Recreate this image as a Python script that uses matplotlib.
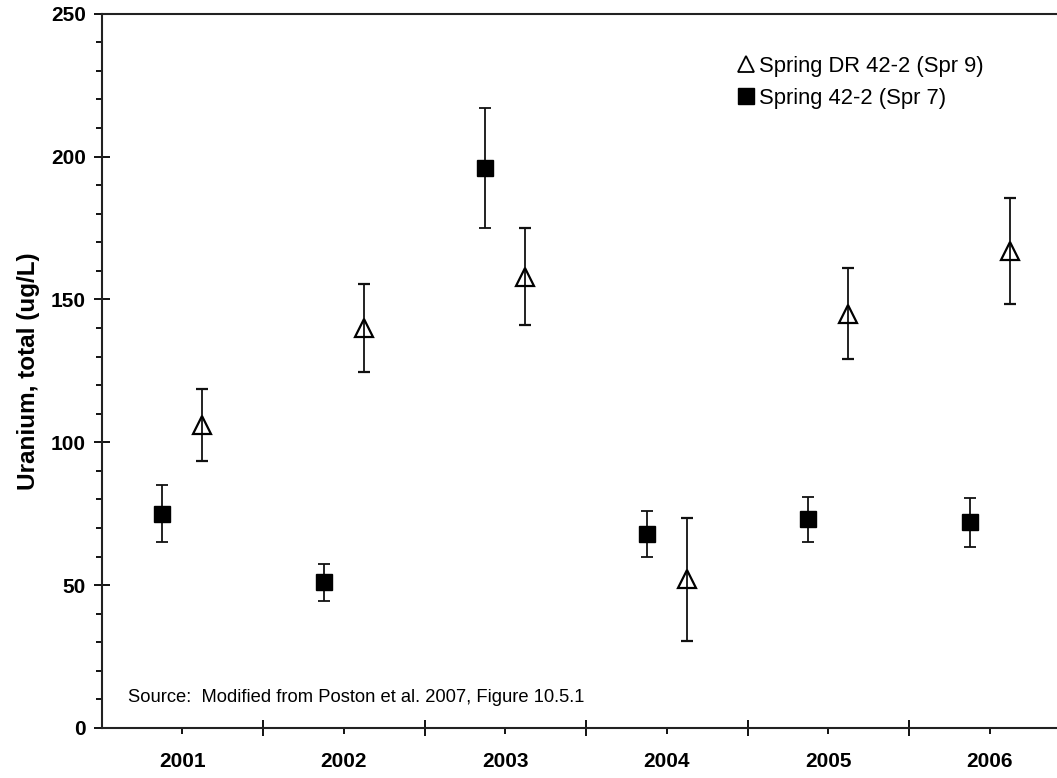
import matplotlib
matplotlib.use("Agg")
import matplotlib.pyplot as plt
from matplotlib.lines import Line2D
from matplotlib.ticker import MultipleLocator, FixedLocator, NullFormatter
import numpy as np

plt.rcParams['font.family'] = ['Liberation Sans', 'DejaVu Sans']

years = ['2001', '2002', '2003', '2004', '2005', '2006']

# Spring 42-2 (Spr 7) - filled squares
spr7 = [75, 51, 196, 68, 73, 72]
spr7_err = [10, 6.5, 21, 8, 8, 8.5]

# Spring DR 42-2 (Spr 9) - open triangles
spr9 = [106, 140, 158, 52, 145, 167]
spr9_err = [12.5, 15.5, 17, 21.5, 16, 18.5]

fig = plt.figure(figsize=(10.57, 7.78), dpi=100)
ax = fig.add_axes([0.0962, 0.0643, 0.9167, 0.918])

x = np.arange(len(years))
off = 0.124

ax.errorbar(x - off, spr7, yerr=spr7_err, fmt='s', color='black', ms=11.5,
            ecolor='#111111', elinewidth=1.3, capsize=4, capthick=1.3)
ax.errorbar(x + off, spr9, yerr=spr9_err, fmt='^', color='black', ms=12.5,
            mfc='none', mec='black', mew=1.6,
            ecolor='#111111', elinewidth=1.3, capsize=4, capthick=1.3)

ax.set_xlim(-0.5, 5.5)
ax.set_ylim(0, 250)

# category boundaries as major ticks, year labels on minor ticks
ax.xaxis.set_major_locator(FixedLocator(np.arange(0.5, 5.5, 1)))
ax.xaxis.set_major_formatter(NullFormatter())
ax.xaxis.set_minor_locator(FixedLocator(x))
ax.set_xticks(x, years, minor=True)
ax.tick_params(axis='x', which='major', direction='inout', length=11, width=1.3)
ax.tick_params(axis='x', which='minor', direction='out', length=4.3, width=1.3,
               pad=13, labelsize=15)

ax.yaxis.set_major_locator(MultipleLocator(50))
ax.yaxis.set_minor_locator(MultipleLocator(10))
ax.tick_params(axis='y', which='major', direction='inout', length=11, width=1.3,
               pad=6, labelsize=15)
ax.tick_params(axis='y', which='minor', direction='out', length=4.3, width=1.3)
for lbl in ax.get_xticklabels(minor=True) + ax.get_yticklabels():
    lbl.set_fontweight('bold')

for side in ['left', 'bottom', 'top']:
    ax.spines[side].set_linewidth(1.5)
    ax.spines[side].set_color('#222222')
ax.spines['right'].set_visible(False)

ax.set_ylabel('Uranium, total (ug/L)', fontsize=17.5, fontweight='bold', labelpad=8)

ax.text(0.027, 0.043, 'Source:  Modified from Poston et al. 2007, Figure 10.5.1',
        transform=ax.transAxes, fontsize=13.2, va='center', ha='left')

handles = [
    Line2D([], [], ls='none', marker='^', ms=11.5, mfc='none', mec='black', mew=1.3),
    Line2D([], [], ls='none', marker='s', ms=11.5, color='black'),
]
fig.legend(handles, ['Spring DR 42-2 (Spr 9)', 'Spring 42-2 (Spr 7)'],
           loc='upper left', bbox_to_anchor=(0.697, 0.928), frameon=False,
           fontsize=15.8, handlelength=0.8, handletextpad=0.2, labelspacing=0.5,
           borderaxespad=0, borderpad=0)

fig.savefig('out.png', dpi=100)
